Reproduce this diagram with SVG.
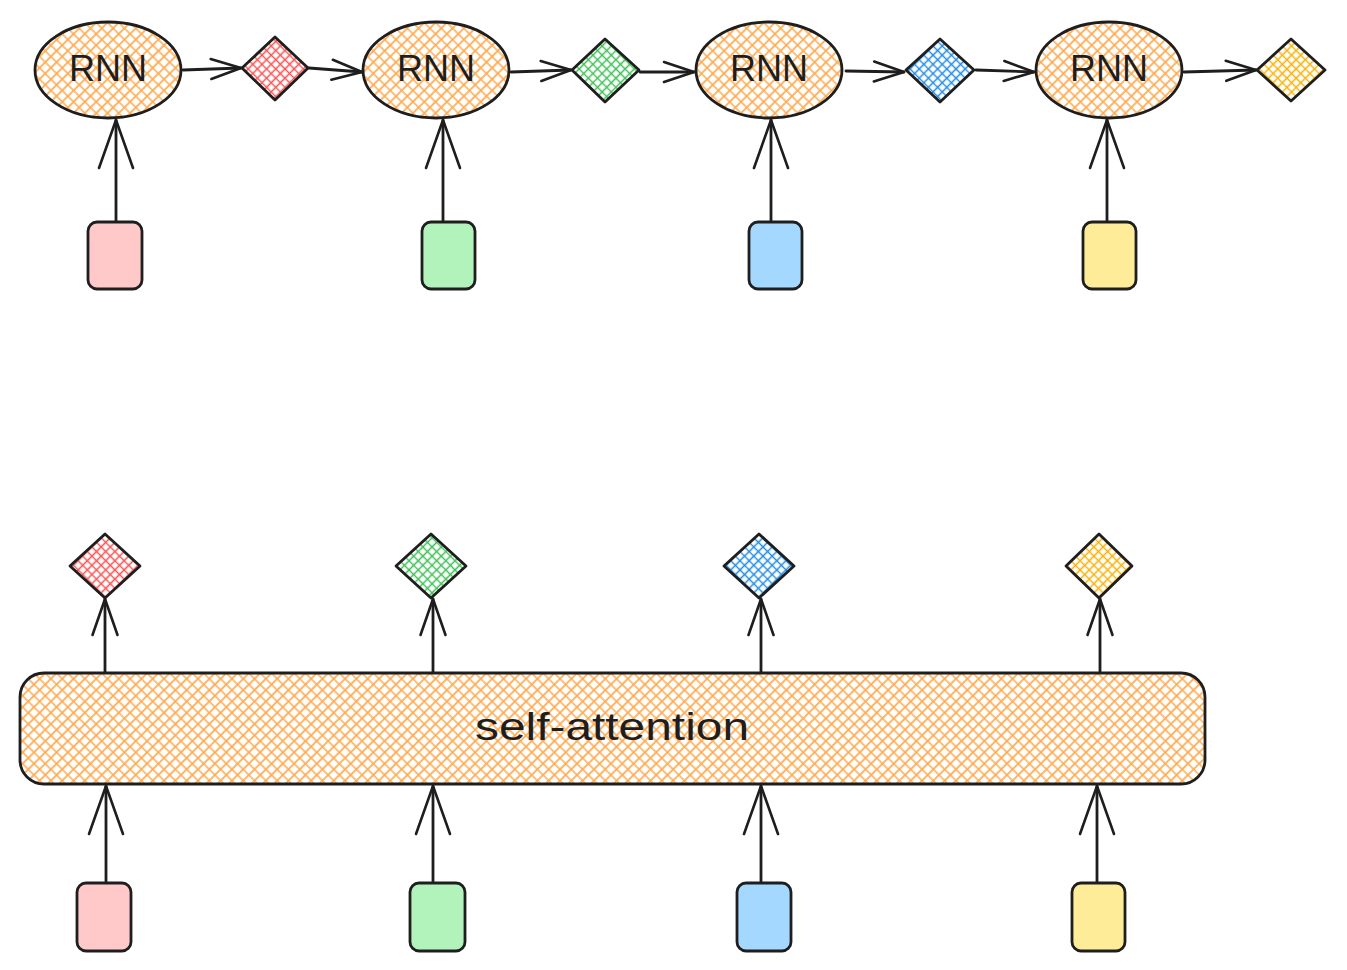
<svg xmlns="http://www.w3.org/2000/svg" width="1347" height="970" viewBox="0 0 1347 970">
<style>
.o{stroke:#1e1e1e;stroke-width:2.8;stroke-linejoin:round;stroke-linecap:round}
.c{stroke:#1e1e1e;stroke-width:2.8;fill:none;stroke-linecap:round}
.t{font-family:"Liberation Sans",Arial,sans-serif;fill:#1e1e1e;text-anchor:middle;dominant-baseline:central}
</style>
<defs>
<pattern id="hO" patternUnits="userSpaceOnUse" width="8" height="8" patternTransform="rotate(45)">
<rect width="8" height="8" fill="#fff"/>
<path d="M0 4H8M4 0V8" stroke="#ffa94d" stroke-width="1.7"/>
</pattern>
<pattern id="hR" patternUnits="userSpaceOnUse" width="6.5" height="6.5" patternTransform="rotate(45)">
<rect width="6.5" height="6.5" fill="#fff"/>
<path d="M0 3.25H6.5M3.25 0V6.5" stroke="#fa5252" stroke-width="1.5"/>
</pattern>
<pattern id="hG" patternUnits="userSpaceOnUse" width="6.5" height="6.5" patternTransform="rotate(45)">
<rect width="6.5" height="6.5" fill="#fff"/>
<path d="M0 3.25H6.5M3.25 0V6.5" stroke="#40c057" stroke-width="1.5"/>
</pattern>
<pattern id="hB" patternUnits="userSpaceOnUse" width="6.5" height="6.5" patternTransform="rotate(45)">
<rect width="6.5" height="6.5" fill="#fff"/>
<path d="M0 3.25H6.5M3.25 0V6.5" stroke="#228be6" stroke-width="1.5"/>
</pattern>
<pattern id="hY" patternUnits="userSpaceOnUse" width="6.5" height="6.5" patternTransform="rotate(45)">
<rect width="6.5" height="6.5" fill="#fff"/>
<path d="M0 3.25H6.5M3.25 0V6.5" stroke="#fab005" stroke-width="1.5"/>
</pattern>
<marker id="aS" markerUnits="userSpaceOnUse" orient="auto" refX="0" refY="0" markerWidth="40" markerHeight="30" viewBox="-35 -15 40 30" overflow="visible">
<path d="M-30 -10L0 0L-30 10" fill="none" stroke="#1e1e1e" stroke-width="2.6" stroke-linecap="round" stroke-linejoin="round"/>
</marker>
<marker id="aM" markerUnits="userSpaceOnUse" orient="auto" refX="0" refY="0" markerWidth="45" markerHeight="30" viewBox="-40 -15 45 30" overflow="visible">
<path d="M-36 -12.5L0 0L-36 12.5" fill="none" stroke="#1e1e1e" stroke-width="2.6" stroke-linecap="round" stroke-linejoin="round"/>
</marker>
<marker id="aL" markerUnits="userSpaceOnUse" orient="auto" refX="0" refY="0" markerWidth="55" markerHeight="40" viewBox="-52 -20 55 40" overflow="visible">
<path d="M-48 -17L0 0L-48 17" fill="none" stroke="#1e1e1e" stroke-width="2.6" stroke-linecap="round" stroke-linejoin="round"/>
</marker>
</defs>
<rect width="1347" height="970" fill="#fff"/>

<g id="connectors">
<path class="c" d="M116 221V120" marker-end="url(#aL)"/>
<path class="c" d="M443 221V120" marker-end="url(#aL)"/>
<path class="c" d="M771 221V120" marker-end="url(#aL)"/>
<path class="c" d="M1107 221V120" marker-end="url(#aL)"/>
<path class="c" d="M183 70L241 68" marker-end="url(#aS)"/>
<path class="c" d="M309 68L362 72" marker-end="url(#aS)"/>
<path class="c" d="M511 72L571 70" marker-end="url(#aS)"/>
<path class="c" d="M640 72L694 72" marker-end="url(#aS)"/>
<path class="c" d="M846 71L904 72" marker-end="url(#aS)"/>
<path class="c" d="M976 70L1034 72" marker-end="url(#aS)"/>
<path class="c" d="M1184 72L1256 70" marker-end="url(#aS)"/>
<path class="c" d="M105 672V599" marker-end="url(#aM)"/>
<path class="c" d="M433 675V599" marker-end="url(#aM)"/>
<path class="c" d="M761 672V599" marker-end="url(#aM)"/>
<path class="c" d="M1100 672V599" marker-end="url(#aM)"/>
<path class="c" d="M106 882V786" marker-end="url(#aL)"/>
<path class="c" d="M433 882V786" marker-end="url(#aL)"/>
<path class="c" d="M761 882V786" marker-end="url(#aL)"/>
<path class="c" d="M1097 882V786" marker-end="url(#aL)"/>
</g>

<g id="rnn1"><ellipse class="o" cx="108" cy="70" rx="73" ry="48" fill="url(#hO)"/><text class="t" x="108" y="68" font-size="36">RNN</text></g>
<g id="rnn2"><ellipse class="o" cx="436" cy="70" rx="73" ry="48" fill="url(#hO)"/><text class="t" x="436" y="68" font-size="36">RNN</text></g>
<g id="rnn3"><ellipse class="o" cx="769" cy="70" rx="73" ry="48" fill="url(#hO)"/><text class="t" x="769" y="68" font-size="36">RNN</text></g>
<g id="rnn4"><ellipse class="o" cx="1109" cy="70" rx="73" ry="48" fill="url(#hO)"/><text class="t" x="1109" y="68" font-size="36">RNN</text></g>

<g id="hdiamond1"><path class="o" d="M275 37L308 68L275 100L242 68Z" fill="url(#hR)"/></g>
<g id="hdiamond2"><path class="o" d="M605 39L639 70L605 102L572 70Z" fill="url(#hG)"/></g>
<g id="hdiamond3"><path class="o" d="M940 39L974 70L940 102L906 70Z" fill="url(#hB)"/></g>
<g id="hdiamond4"><path class="o" d="M1291 39L1325 70L1291 101L1257 70Z" fill="url(#hY)"/></g>

<g id="xtop1"><rect class="o" x="88" y="222" width="54" height="67" rx="9" fill="#ffc9c9"/></g>
<g id="xtop2"><rect class="o" x="422" y="222" width="53" height="67" rx="9" fill="#b2f2bb"/></g>
<g id="xtop3"><rect class="o" x="749" y="222" width="53" height="67" rx="9" fill="#a5d8ff"/></g>
<g id="xtop4"><rect class="o" x="1083" y="222" width="53" height="67" rx="9" fill="#ffec99"/></g>

<g id="selfattention"><rect class="o" x="20" y="673" width="1185" height="111" rx="24" fill="url(#hO)"/><text class="t" x="612" y="727" font-size="38" textLength="274" lengthAdjust="spacingAndGlyphs">self-attention</text></g>

<g id="odiamond1"><path class="o" d="M105 534L140 566L105 598L70 566Z" fill="url(#hR)"/></g>
<g id="odiamond2"><path class="o" d="M431 534L466 566L431 598L396 566Z" fill="url(#hG)"/></g>
<g id="odiamond3"><path class="o" d="M759 534L794 566L759 598L724 566Z" fill="url(#hB)"/></g>
<g id="odiamond4"><path class="o" d="M1099 534L1132 566L1099 598L1066 566Z" fill="url(#hY)"/></g>

<g id="xbot1"><rect class="o" x="77" y="883" width="54" height="68" rx="9" fill="#ffc9c9"/></g>
<g id="xbot2"><rect class="o" x="410" y="883" width="55" height="68" rx="9" fill="#b2f2bb"/></g>
<g id="xbot3"><rect class="o" x="737" y="883" width="54" height="68" rx="9" fill="#a5d8ff"/></g>
<g id="xbot4"><rect class="o" x="1072" y="883" width="53" height="68" rx="9" fill="#ffec99"/></g>
</svg>
